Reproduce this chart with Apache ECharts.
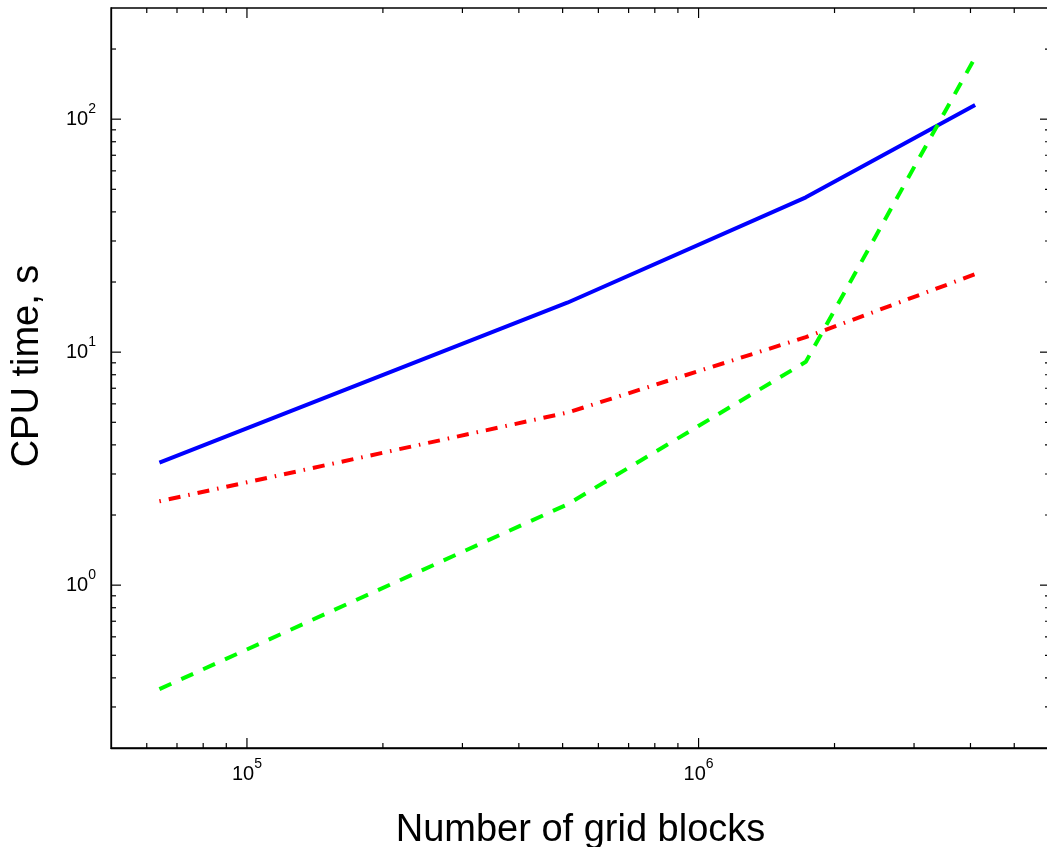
<!DOCTYPE html>
<html>
<head>
<meta charset="utf-8">
<script src="https://cdn.jsdelivr.net/npm/echarts@6/dist/echarts.min.js"></script>
<style>
  html, body { margin: 0; padding: 0; background: #fff; }
  #chart { width: 1047px; height: 847px; }
</style>
</head>
<body>
<div id="chart"></div>
<script>
// Mesh sizes (number of grid blocks) and CPU times for three solvers
const gridBlocks = [64000, 512000, 1728000, 4096000];
const cpuSolid   = [3.36, 16.3, 46.2, 115];
const cpuDashDot = [2.29, 5.5, 11.6, 21.6];
const cpuDashed  = [0.358, 2.22, 9.09, 184];

// Axis ranges
const X_MIN = 5e4, X_MAX = 6e6;
const Y_MIN = 0.2, Y_MAX = 300;

// Tick positions (decades are major, 2..9 multiples are minor)
const xMajorTicks = [1e5, 1e6];
const xMinorTicks = [6e4, 7e4, 8e4, 9e4, 2e5, 3e5, 4e5, 5e5, 6e5, 7e5, 8e5, 9e5, 2e6, 3e6, 4e6, 5e6];
const yMajorTicks = [1, 10, 100];
const yMinorTicks = [0.3, 0.4, 0.5, 0.6, 0.7, 0.8, 0.9, 2, 3, 4, 5, 6, 7, 8, 9, 20, 30, 40, 50, 60, 70, 80, 90, 200];

const FONT = 'Liberation Sans, Arial, Helvetica, sans-serif';
const MAJOR_LEN = 10, MINOR_LEN = 5;

// Tick records: [x, y, length, kind] where kind 0 = x tick, 1 = y tick
const tickData = [];
xMajorTicks.forEach(v => tickData.push([v, Y_MIN, MAJOR_LEN, 0]));
xMinorTicks.forEach(v => tickData.push([v, Y_MIN, MINOR_LEN, 0]));
yMajorTicks.forEach(v => tickData.push([X_MIN, v, MAJOR_LEN, 1]));
yMinorTicks.forEach(v => tickData.push([X_MIN, v, MINOR_LEN, 1]));

// Decade labels written as 10 with a raised exponent
function powerLabel(v) {
  const e = Math.log10(v);
  const k = Math.round(e);
  if (Math.abs(e - k) > 1e-6) return '';
  return '{base|10}{sup|' + k + '}';
}

const labelRich = {
  base: { fontSize: 20, lineHeight: 34, verticalAlign: 'middle', fontFamily: FONT, color: '#000' },
  sup: { fontSize: 14, lineHeight: 14, verticalAlign: 'top', fontFamily: FONT, color: '#000' }
};

const tickStyle = { stroke: '#000', lineWidth: 1.2 };

const chart = echarts.init(document.getElementById('chart'), null, { renderer: 'canvas' });

chart.setOption({
  animation: false,
  backgroundColor: '#fff',
  grid: {
    left: 111, top: 8, width: 939, height: 740,
    containLabel: false, outerBoundsMode: 'none',
    show: true, borderColor: '#000', borderWidth: 1.3, backgroundColor: 'transparent'
  },
  xAxis: {
    type: 'log', logBase: 10, min: X_MIN, max: X_MAX,
    axisLine: { show: true, lineStyle: { color: '#000', width: 1.3 } },
    axisTick: { show: false },
    splitLine: { show: false },
    minorTick: { show: false },
    axisLabel: {
      formatter: powerLabel, rich: labelRich, color: '#000',
      fontFamily: FONT, fontSize: 20, lineHeight: 34, margin: 9
    },
    name: 'Number of grid blocks', nameLocation: 'middle', nameGap: 64,
    nameTextStyle: { fontFamily: FONT, fontSize: 38, color: '#000' }
  },
  yAxis: {
    type: 'log', logBase: 10, min: Y_MIN, max: Y_MAX,
    axisLine: { show: true, lineStyle: { color: '#000', width: 1.3 } },
    axisTick: { show: false },
    splitLine: { show: false },
    minorTick: { show: false },
    axisLabel: {
      formatter: powerLabel, rich: labelRich, color: '#000',
      fontFamily: FONT, fontSize: 20, lineHeight: 34, margin: 15
    }
  },
  graphic: [{
    type: 'text', x: 28, y: 366, rotation: Math.PI / 2,
    style: {
      text: 'CPU time, s', fill: '#000',
      font: '38px ' + FONT, align: 'center', verticalAlign: 'middle'
    }
  }],
  series: [
    {
      name: 'ticks', type: 'custom', silent: true, clip: false, z: 5,
      encode: { x: 0, y: 1 },
      data: tickData,
      renderItem: function (params, api) {
        const v0 = api.value(0), v1 = api.value(1), len = api.value(2), kind = api.value(3);
        if (kind === 0) {
          const b = api.coord([v0, Y_MIN]);
          const t = api.coord([v0, Y_MAX]);
          return { type: 'group', children: [
            { type: 'line', shape: { x1: b[0], y1: b[1], x2: b[0], y2: b[1] - len }, style: tickStyle },
            { type: 'line', shape: { x1: t[0], y1: t[1], x2: t[0], y2: t[1] + len }, style: tickStyle }
          ] };
        }
        const l = api.coord([X_MIN, v1]);
        const r = api.coord([X_MAX, v1]);
        return { type: 'group', children: [
          { type: 'line', shape: { x1: l[0], y1: l[1], x2: l[0] + len, y2: l[1] }, style: tickStyle },
          { type: 'line', shape: { x1: r[0], y1: r[1], x2: r[0] - len, y2: r[1] }, style: tickStyle }
        ] };
      }
    },
    {
      name: 'solid', type: 'line', symbol: 'none', z: 2,
      data: gridBlocks.map((x, i) => [x, cpuSolid[i]]),
      lineStyle: { color: '#0000ff', width: 4, type: 'solid' }
    },
    {
      name: 'dashdot', type: 'line', symbol: 'none', z: 3,
      data: gridBlocks.map((x, i) => [x, cpuDashDot[i]]),
      lineStyle: { color: '#ff0000', width: 4, type: [1.5, 8, 12, 8] }
    },
    {
      name: 'dashed', type: 'line', symbol: 'none', z: 4,
      data: gridBlocks.map((x, i) => [x, cpuDashed[i]]),
      lineStyle: { color: '#00ff00', width: 4, type: [13, 11] }
    }
  ]
});
</script>
</body>
</html>
